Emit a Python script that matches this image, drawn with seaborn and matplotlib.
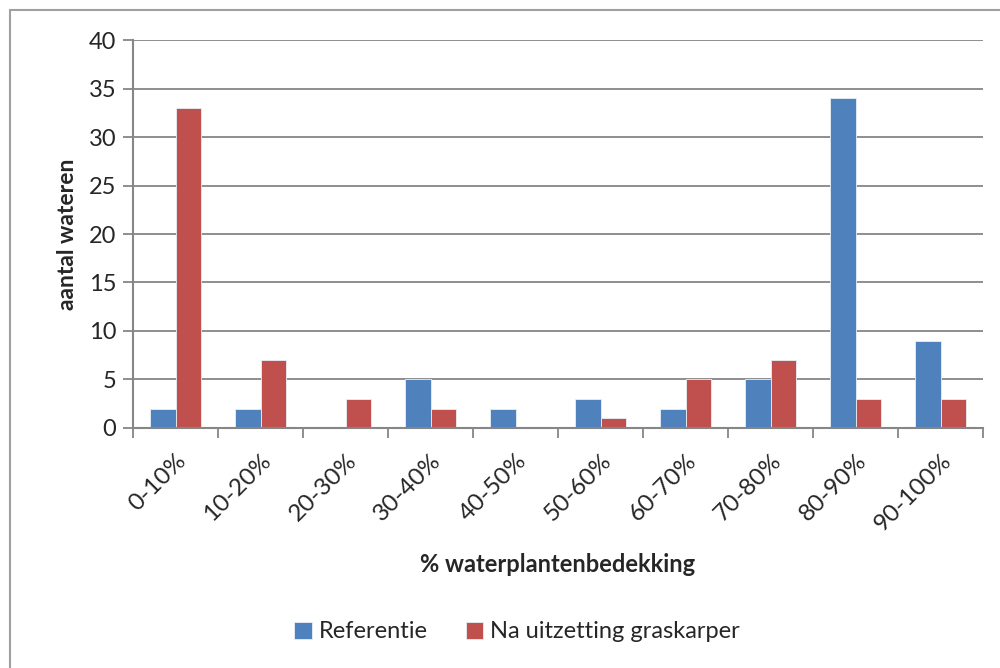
import matplotlib
matplotlib.use("Agg")
import matplotlib.pyplot as plt
import seaborn as sns
import pandas as pd
from matplotlib.lines import Line2D

categories = ["0-10%", "10-20%", "20-30%", "30-40%", "40-50%",
              "50-60%", "60-70%", "70-80%", "80-90%", "90-100%"]
referentie = [2, 2, 0, 5, 2, 3, 2, 5, 34, 9]
na_uitzetting = [33, 7, 3, 2, 0, 1, 5, 7, 3, 3]
series_names = ["Referentie", "Na uitzetting graskarper"]
y_ticks = [0, 5, 10, 15, 20, 25, 30, 35, 40]

df = pd.DataFrame({
    "cat": categories * 2,
    "value": referentie + na_uitzetting,
    "series": [series_names[0]] * len(categories) + [series_names[1]] * len(categories),
})

sns.set_theme(style="white")
plt.rcParams["font.family"] = ["Lato", "DejaVu Sans"]

fig = plt.figure(figsize=(10, 6.68), dpi=100)
ax = fig.add_axes([0.133, 0.3593, 0.85, 0.5808])

palette = {series_names[0]: "#4F81BD", series_names[1]: "#C0504D"}
sns.barplot(data=df, x="cat", y="value", hue="series", palette=palette,
            width=0.59, saturation=1, ax=ax, legend=True,
            edgecolor="#E8EEF5", linewidth=0.6)

ax.set_ylim(0, 40)
ax.set_xlim(-0.5, len(categories) - 0.5)
ax.set_yticks(y_ticks)
ax.yaxis.grid(True, color="#868686", linewidth=1.3)
ax.set_axisbelow(True)
for s in ["top", "right"]:
    ax.spines[s].set_visible(False)
for s in ["left", "bottom"]:
    ax.spines[s].set_color("#868686")
    ax.spines[s].set_linewidth(1.5)

ax.tick_params(axis="y", which="major", length=7, width=1.3, color="#868686",
               labelsize=17, pad=5, left=True)
ax.set_xticks(range(len(categories)))
ax.set_xticklabels(categories, rotation=45, ha="right", rotation_mode="anchor", fontsize=17.5)
ax.tick_params(axis="x", which="major", length=0, pad=16)
# minor ticks between categories
ax.set_xticks([i - 0.5 for i in range(len(categories) + 1)], minor=True)
ax.tick_params(axis="x", which="minor", length=7, width=1.3, color="#868686", bottom=True)

ax.set_ylabel("aantal wateren", fontsize=16.5, fontweight="bold", labelpad=8)
ax.set_xlabel("% waterplantenbedekking", fontsize=17, fontweight="bold", labelpad=13)

handles, labels = ax.get_legend_handles_labels()
ax.legend_.remove()
fig.legend(handles, labels, loc="center", bbox_to_anchor=(0.517, 0.054), ncol=2,
           frameon=False, fontsize=17, handlelength=0.75, handleheight=0.75,
           columnspacing=1.6, handletextpad=0.3)

# outer chart border (left and top visible)
fig.add_artist(Line2D([0.0095, 0.0095], [0, 0.985], color="#A0A0A0", lw=1.5, transform=fig.transFigure))
fig.add_artist(Line2D([0.0095, 1.0], [0.985, 0.985], color="#A0A0A0", lw=1.5, transform=fig.transFigure))

fig.savefig("out.png", dpi=100)
